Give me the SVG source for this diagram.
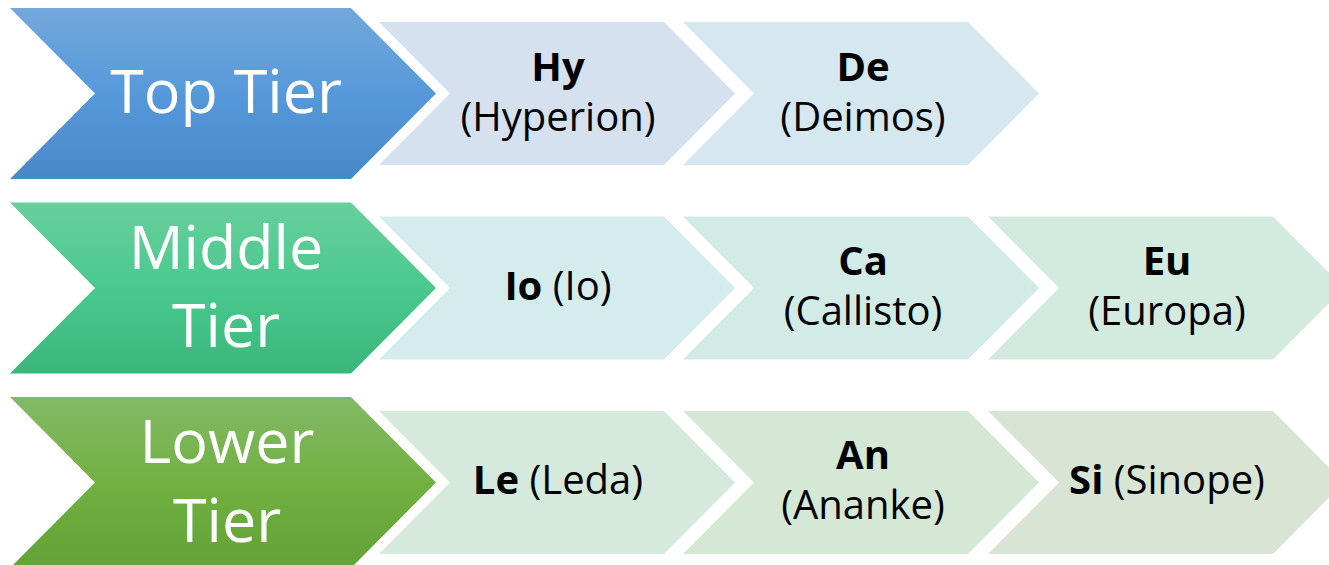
<svg xmlns="http://www.w3.org/2000/svg" width="1329" height="565" viewBox="0 0 1329 565">
<defs>
<linearGradient id="gTop" x1="0" y1="0" x2="0" y2="1"><stop offset="0" stop-color="#73a8dc"/><stop offset="0.5" stop-color="#5699da"/><stop offset="1" stop-color="#4789c8"/></linearGradient>
<linearGradient id="gMid" x1="0" y1="0" x2="0" y2="1"><stop offset="0" stop-color="#69cf9d"/><stop offset="0.5" stop-color="#49c98e"/><stop offset="1" stop-color="#3ab77b"/></linearGradient>
<linearGradient id="gLow" x1="0" y1="0" x2="0" y2="1"><stop offset="0" stop-color="#83b966"/><stop offset="0.5" stop-color="#71b142"/><stop offset="1" stop-color="#62a236"/></linearGradient>
<path id="big" d="M0,0 L341,0 L426,85.5 L341,171 L0,171 L85,85.5 Z"/>
<path id="small" d="M0,0 L285,0 L356,71.5 L285,143 L0,143 L71,71.5 Z"/>
</defs>
<style>
.tier{font-family:"Open Sans","Liberation Sans",sans-serif;font-size:61px;fill:#ffffff;text-anchor:middle}
.lbl{font-family:"Open Sans","Liberation Sans",sans-serif;font-size:40px;fill:#000000;text-anchor:middle}
.b{font-weight:bold}
</style>
<rect width="1329" height="565" fill="#ffffff"/>
<g id="connectors"/>
<g id="top-tier">
<use href="#big" x="10" y="8" fill="url(#gTop)"/>
<text class="tier" x="226" y="113">Top Tier</text>
</g>
<g id="node-hy">
<use href="#small" x="379" y="22" fill="#d5e1ee"/>
<text class="lbl" x="558" y="81"><tspan class="b">Hy</tspan></text>
<text class="lbl" x="558" y="131">(Hyperion)</text>
</g>
<g id="node-de">
<use href="#small" x="683" y="22" fill="#d5e7ef"/>
<text class="lbl" x="863" y="81"><tspan class="b">De</tspan></text>
<text class="lbl" x="863" y="131">(Deimos)</text>
</g>
<g id="middle-tier">
<use href="#big" x="10" y="202.5" fill="url(#gMid)"/>
<text class="tier" x="226" y="269">Middle</text>
<text class="tier" x="226" y="347">Tier</text>
</g>
<g id="node-io">
<use href="#small" x="379" y="216.5" fill="#d5ecec"/>
<text class="lbl" x="558" y="300"><tspan class="b">Io</tspan> (Io)</text>
</g>
<g id="node-ca">
<use href="#small" x="683" y="216.5" fill="#d3ebe6"/>
<text class="lbl" x="863" y="275"><tspan class="b">Ca</tspan></text>
<text class="lbl" x="863" y="325">(Callisto)</text>
</g>
<g id="node-eu">
<use href="#small" x="988" y="216.5" fill="#d3ebdf"/>
<text class="lbl" x="1167" y="275"><tspan class="b">Eu</tspan></text>
<text class="lbl" x="1167" y="325">(Europa)</text>
</g>
<g id="lower-tier">
<use href="#big" x="10" y="397" fill="url(#gLow)"/>
<text class="tier" x="227" y="463">Lower</text>
<text class="tier" x="227" y="542">Tier</text>
</g>
<g id="node-le">
<use href="#small" x="379" y="411" fill="#d5e9dc"/>
<text class="lbl" x="558" y="494"><tspan class="b">Le</tspan> (Leda)</text>
</g>
<g id="node-an">
<use href="#small" x="683" y="411" fill="#d5e8d5"/>
<text class="lbl" x="863" y="469"><tspan class="b">An</tspan></text>
<text class="lbl" x="863" y="519">(Ananke)</text>
</g>
<g id="node-si">
<use href="#small" x="988" y="411" fill="#d9e5d4"/>
<text class="lbl" x="1167" y="494"><tspan class="b">Si</tspan> (Sinope)</text>
</g>
</svg>
